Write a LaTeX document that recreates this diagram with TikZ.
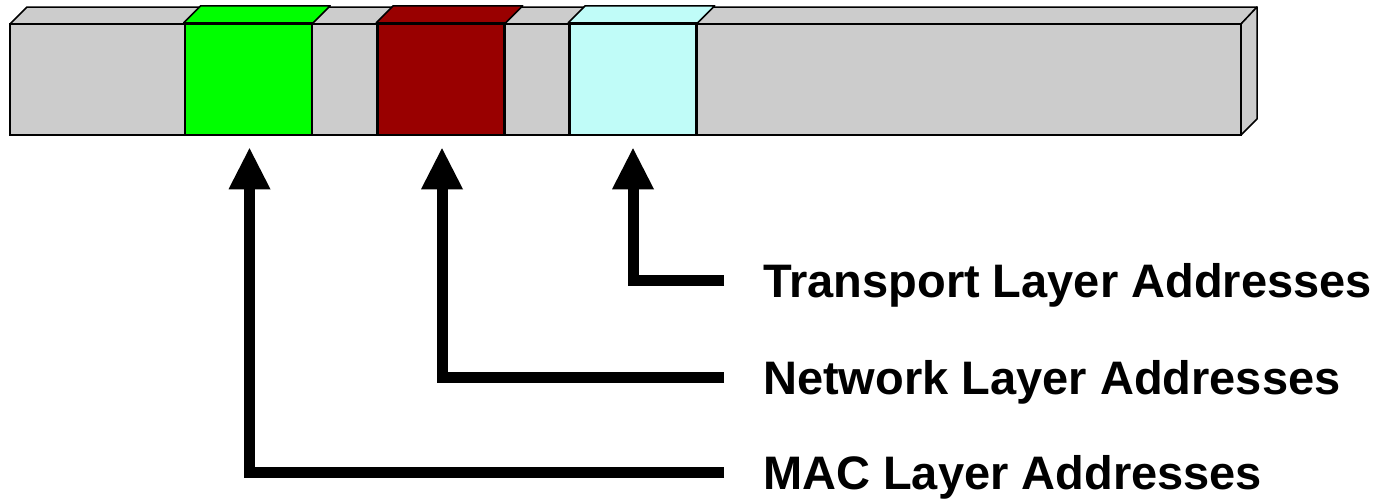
\documentclass[tikz,border=0pt]{standalone}
\usepackage{fontspec}
\setmainfont{Liberation Sans}
\usetikzlibrary{arrows.meta}
\definecolor{bargray}{HTML}{CCCCCC}
\definecolor{macgreen}{HTML}{00FF00}
\definecolor{netred}{HTML}{990000}
\definecolor{tpcyan}{HTML}{C0FCF8}
\tikzset{
  front/.style={draw=black, line width=2.5pt, line join=miter},
  topface/.style={draw=black, line width=1.5pt, line join=round},
  seg/.style={front, rectangle, inner sep=0pt, minimum width=127pt, minimum height=111pt},
  arr/.style={line width=11pt, line join=miter, -{Triangle[width=42pt,length=41pt,line width=0pt]}},
  lbl/.style={anchor=base west, inner sep=0pt, font=\bfseries\fontsize{47}{50}\selectfont}
}
\begin{document}
\begin{tikzpicture}[x=1pt,y=-1pt]
\useasboundingbox (0,0) rectangle (1391,501);
% whole bar
\path[topface, fill=bargray] (10,24) -- (27,7) -- (1257,7) -- (1241,24) -- cycle;
\path[topface, fill=bargray] (1241,24) -- (1257,7) -- (1257,119) -- (1241,135) -- cycle;
\node[front, fill=bargray, rectangle, inner sep=0pt, minimum width=1231pt, minimum height=111pt] (bar) at (625.5,79.5) {};
% address fields
\node[seg, fill=macgreen] (mac) at (248.5,79.5) {};
\node[seg, fill=netred] (net) at (441,79.5) {};
\node[seg, fill=tpcyan] (tp) at (633,79.5) {};
\foreach \n/\c in {mac/macgreen, net/netred, tp/tpcyan}{
  \path[topface, fill=\c] (\n.north west) -- ++(17,-17) -- ([xshift=17pt,yshift=17pt]\n.north east) -- (\n.north east) -- cycle;
}
% labels
\node[lbl] (tpl) at (763,297) {Transport Layer Addresses};
\node[lbl] (netl) at (763,394) {Network Layer Addresses};
\node[lbl] (macl) at (763,489) {MAC Layer Addresses};
\coordinate (tpe) at (724,280);
\coordinate (nete) at (724,377);
\coordinate (mace) at (724,472);
% arrows
\draw[arr] (tpe) -| ([yshift=-12pt]tp.south);
\draw[arr] (nete) -| ([xshift=1pt,yshift=-12pt]net.south);
\draw[arr] (mace) -| ([xshift=1pt,yshift=-12pt]mac.south);
\end{tikzpicture}
\end{document}
